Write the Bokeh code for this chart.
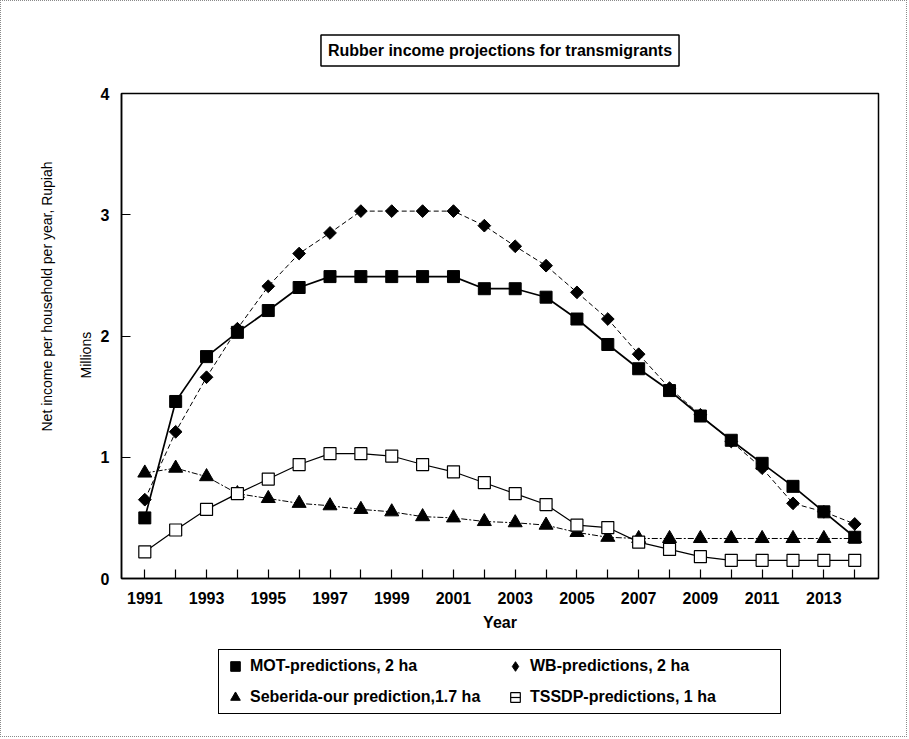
import math
from bokeh.plotting import figure
from bokeh.layouts import column
from bokeh.models import FixedTicker, Legend, LegendItem, Range1d, Title
from bokeh.embed import file_html
from bokeh.resources import INLINE

# ---------------- data ----------------
years = list(range(1991, 2015))
mot_2ha = [0.50, 1.46, 1.83, 2.03, 2.21, 2.40, 2.49, 2.49, 2.49, 2.49, 2.49, 2.39,
           2.39, 2.32, 2.14, 1.93, 1.73, 1.55, 1.34, 1.14, 0.95, 0.76, 0.55, 0.34]
wb_2ha = [0.65, 1.21, 1.66, 2.06, 2.41, 2.68, 2.85, 3.03, 3.03, 3.03, 3.03, 2.91,
          2.74, 2.58, 2.36, 2.14, 1.85, 1.57, 1.35, 1.13, 0.91, 0.62, 0.55, 0.45]
seberida_17ha = [0.87, 0.91, 0.84, 0.70, 0.66, 0.62, 0.60, 0.57, 0.55, 0.51, 0.50, 0.47,
                 0.46, 0.44, 0.38, 0.34, 0.33, 0.33, 0.33, 0.33, 0.33, 0.33, 0.33, 0.33]
tssdp_1ha = [0.22, 0.40, 0.57, 0.70, 0.82, 0.94, 1.03, 1.03, 1.01, 0.94, 0.88, 0.79,
             0.70, 0.61, 0.44, 0.42, 0.30, 0.24, 0.18, 0.15, 0.15, 0.15, 0.15, 0.15]
y_ticks = [0, 1, 2, 3, 4]
labelled_years = [y for y in years if y % 2 == 1]
series_labels = ["MOT-predictions, 2 ha", "WB-predictions, 2 ha",
                 "Seberida-our prediction,1.7 ha", "TSSDP-predictions, 1 ha"]
title_text = "Rubber income projections for transmigrants"
ylabel_main = "Net income per household per year, Rupiah"
ylabel_unit = "Millions"
xlabel = "Year"

# ---------------- styles ----------------
FONT = "Liberation Sans"
FW, FH = 757, 485
ML, MR, MT, MB = 120, 28, 92, 60
X0, X1 = 1990.245, 2014.77
Y0, Y1 = 0, 4
TOTAL_W = ML + FW + MR
LEG_H = 98

STYLE = {
    "mot": dict(line=dict(line_width=1.7),
                marker=dict(marker="square", size=12, fill_color="black", line_color="black")),
    "wb": dict(line=dict(line_width=1.0, line_dash="5 3"),
               marker=dict(marker="square", angle=math.pi / 4, size=9,
                           fill_color="black", line_color="black")),
    "seb": dict(line=dict(line_width=1.0, line_dash="6 2 2 2"),
                marker=dict(marker="triangle", size=14, fill_color="black", line_color="black")),
    "tss": dict(line=dict(line_width=1.2),
                marker=dict(marker="square", size=12, fill_color="white",
                            line_color="black", line_width=1.2)),
}

# ---------------- main chart ----------------
p = figure(frame_width=FW, frame_height=FH, x_range=Range1d(X0, X1), y_range=Range1d(Y0, Y1),
           output_backend="svg", toolbar_location=None,
           min_border_left=ML, min_border_right=MR, min_border_top=MT, min_border_bottom=MB)
p.xgrid.visible = False
p.ygrid.visible = False
p.outline_line_color = "black"
p.outline_line_width = 1.5
p.outline_line_alpha = 1.0
p.background_fill_color = "white"
p.border_fill_color = "white"

for ax in (p.xaxis[0], p.yaxis[0]):
    ax.major_tick_in = 9
    ax.major_tick_out = 0
    ax.minor_tick_in = 0
    ax.minor_tick_out = 0
    ax.axis_line_width = 1.5
    ax.axis_line_color = "black"
    ax.major_tick_line_width = 1.2
    ax.major_tick_line_color = "black"
    ax.major_label_text_font = FONT
    ax.major_label_text_font_size = "16px"
    ax.major_label_text_font_style = "bold"
    ax.major_label_text_color = "black"
    ax.major_label_standoff = 12

xa = p.xaxis[0]
xa.ticker = FixedTicker(ticks=years)
xa.major_label_overrides = {y: (str(y) if y in labelled_years else "") for y in years}
xa.major_label_standoff = 13
xa.axis_label = xlabel
xa.axis_label_text_font = FONT
xa.axis_label_text_font_size = "16px"
xa.axis_label_text_font_style = "bold"
xa.axis_label_text_color = "black"
xa.axis_label_standoff = 7

ya = p.yaxis[0]
ya.ticker = FixedTicker(ticks=y_ticks)

for key, vals in (("mot", mot_2ha), ("wb", wb_2ha), ("seb", seberida_17ha), ("tss", tssdp_1ha)):
    p.line(years, vals, line_color="black", **STYLE[key]["line"])
    p.scatter(years, vals, **STYLE[key]["marker"])

p.title = Title(text=title_text, align="center", text_font=FONT, text_font_size="16px",
                text_font_style="bold", text_color="black", standoff=55, padding=7,
                border_line_color="black", border_line_width=1.5,
                background_fill_color="white")

p.add_layout(Title(text=ylabel_unit, align="left", offset=200, standoff=7,
                   text_font=FONT, text_font_size="14px", text_font_style="normal",
                   text_color="black"), "left")
p.add_layout(Title(text=ylabel_main, align="left", offset=147, standoff=36,
                   text_font=FONT, text_font_size="14px", text_font_style="normal",
                   text_color="black"), "left")

# ---------------- legend strip (hidden copies of the series supply the legend glyphs) ----------------
lg = figure(width=TOTAL_W, height=LEG_H, x_range=Range1d(X0, X1), y_range=Range1d(Y0, Y1),
            x_axis_type=None, y_axis_type=None, output_backend="svg",
            toolbar_location=None, min_border=0)
lg.outline_line_color = None
lg.background_fill_color = "white"
lg.border_fill_color = "white"
r_mot = lg.scatter(years, mot_2ha, visible=False, **STYLE["mot"]["marker"])
r_wb = lg.scatter(years, wb_2ha, visible=False, marker="diamond", size=12,
                  fill_color="black", line_color="black")
r_seb = lg.scatter(years, seberida_17ha, visible=False, **STYLE["seb"]["marker"])
r_tss = lg.scatter(years, tssdp_1ha, visible=False, marker="square", size=12,
                   fill_alpha=0, line_color="black", line_width=1.2)
r_tss_bar = lg.scatter(years, tssdp_1ha, visible=False, marker="dash", size=12,
                       line_color="black", line_width=1.2)

legend = Legend(
    items=[LegendItem(label=series_labels[0], renderers=[r_mot]),
           LegendItem(label=series_labels[1], renderers=[r_wb]),
           LegendItem(label=series_labels[2], renderers=[r_seb]),
           LegendItem(label=series_labels[3], renderers=[r_tss, r_tss_bar])],
    orientation="horizontal", ncols=2, location=(97, 22), click_policy="none",
    glyph_width=24, glyph_height=24, label_height=24, label_width=246,
    label_standoff=3, spacing=7, padding=4, margin=0,
    label_text_font=FONT, label_text_font_size="16px", label_text_font_style="bold",
    label_text_color="black", inactive_fill_alpha=0.0,
    border_line_color="black", border_line_width=1.5, border_line_alpha=1.0,
    background_fill_color="white", background_fill_alpha=1.0,
)
lg.add_layout(legend)

page = column(p, lg, spacing=0, styles={"border": "1px dotted #8a8a8a"})

open("out.html", "w").write(file_html(page, INLINE))
